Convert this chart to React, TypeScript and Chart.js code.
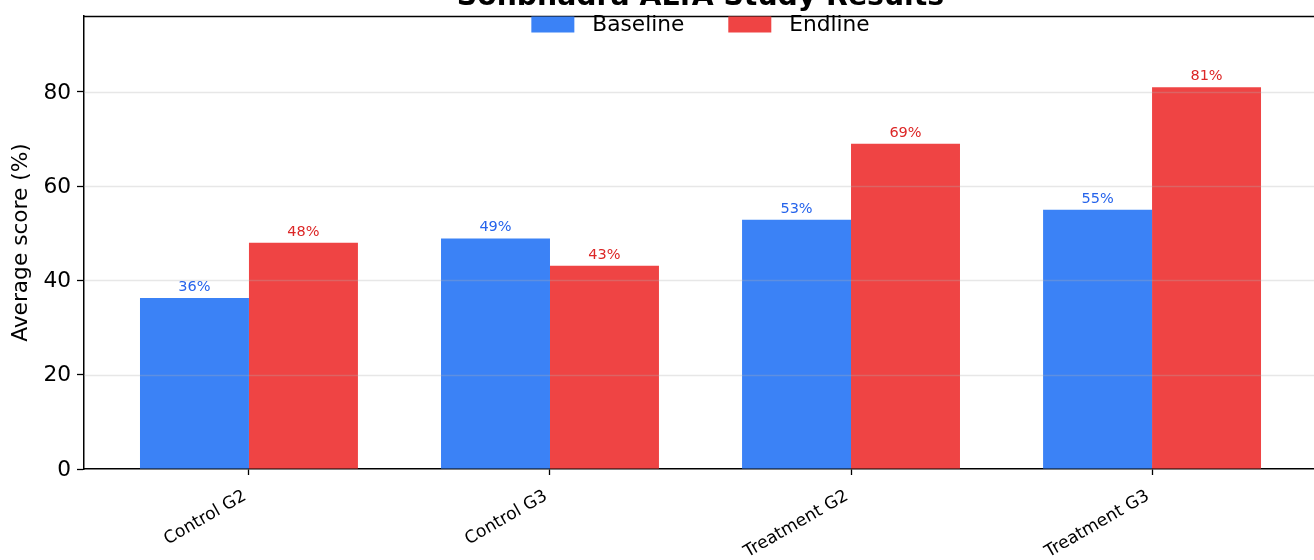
import React, { useEffect, useRef } from "react";
import { Chart, registerables } from "chart.js";

Chart.register(...registerables);

const categories = ["Control G2", "Control G3", "Treatment G2", "Treatment G3"];
const baselineValues = [36.3, 48.9, 52.9, 55.0];
const endlineValues = [48.0, 43.1, 69.0, 81.0];
const seriesNames = ["Baseline", "Endline"];
const yTicks = [0, 20, 40, 60, 80];
const gridTicks = [20, 40, 60, 80];
const chartTitle = "Sonbhadra ALfA Study Results";
const yTitle = "Average score (%)";

const W = 1314;
const H = 560;
const FONT = "'DejaVu Sans', 'Liberation Sans', sans-serif";
const BAR_COLORS = ["#3b82f6", "#ef4444"];
const LABEL_COLORS = ["#2563eb", "#dc2626"];
const MAIN_SIZE = 21.7;

const overlayPlugin = {
  id: "overlay",
  afterDatasetsDraw(chart: any) {
    const { ctx, chartArea, scales } = chart;
    const y = scales.y;
    ctx.save();
    ctx.strokeStyle = "rgba(176,176,176,0.3)";
    ctx.lineWidth = 1.4;
    for (const v of gridTicks) {
      const py = Math.round(y.getPixelForValue(v)) + 0.5;
      ctx.beginPath();
      ctx.moveTo(chartArea.left, py);
      ctx.lineTo(chartArea.right, py);
      ctx.stroke();
    }
    ctx.font = `14.5px ${FONT}`;
    ctx.textAlign = "center";
    ctx.textBaseline = "alphabetic";
    const all = [baselineValues, endlineValues];
    all.forEach((vals, di) => {
      const meta = chart.getDatasetMeta(di);
      ctx.fillStyle = LABEL_COLORS[di];
      meta.data.forEach((el: any, i: number) => {
        ctx.fillText(`${Math.round(vals[i])}%`, el.x, el.y - 7);
      });
    });
    ctx.restore();
  },
  afterDraw(chart: any) {
    const { ctx, chartArea } = chart;
    ctx.save();
    ctx.strokeStyle = "#000";
    ctx.lineWidth = 1.5;
    ctx.beginPath();
    ctx.moveTo(chartArea.left, chartArea.top + 0.5);
    ctx.lineTo(chartArea.right, chartArea.top + 0.5);
    ctx.stroke();

    const cx = 700.5;
    ctx.fillStyle = "#000";
    ctx.font = `bold 28.3px ${FONT}`;
    ctx.textAlign = "center";
    ctx.textBaseline = "alphabetic";
    ctx.fillText(chartTitle, cx, 5);

    ctx.font = `${MAIN_SIZE}px ${FONT}`;
    const patchW = 43;
    const patchH = 16;
    const pad = 18;
    const colGap = 44;
    const widths = seriesNames.map((s) => ctx.measureText(s).width);
    const total = widths.reduce((a, w) => a + patchW + pad + w, 0) + colGap * (seriesNames.length - 1);
    let x = cx - total / 2;
    const ly = 24.5;
    ctx.textAlign = "left";
    ctx.textBaseline = "middle";
    seriesNames.forEach((s, i) => {
      ctx.fillStyle = BAR_COLORS[i];
      ctx.fillRect(x, ly - patchH / 2, patchW, patchH);
      x += patchW + pad;
      ctx.fillStyle = "#000";
      ctx.fillText(s, x, ly + 1);
      x += widths[i] + colGap;
    });

    ctx.save();
    ctx.translate(21, (chartArea.top + chartArea.bottom) / 2);
    ctx.rotate(-Math.PI / 2);
    ctx.textAlign = "center";
    ctx.textBaseline = "middle";
    ctx.fillStyle = "#000";
    ctx.fillText(yTitle, 0, 0);
    ctx.restore();
    ctx.restore();
  },
};

export default function App() {
  const ref = useRef<HTMLCanvasElement | null>(null);
  useEffect(() => {
    document.body.style.margin = "0";
    const canvas = ref.current!;
    const chart = new Chart(canvas, {
      type: "bar",
      data: {
        datasets: [
          {
            label: seriesNames[0],
            data: baselineValues.map((v, i) => ({ x: i, y: v })),
            backgroundColor: BAR_COLORS[0],
            categoryPercentage: 0.724,
            barPercentage: 1,
          },
          {
            label: seriesNames[1],
            data: endlineValues.map((v, i) => ({ x: i, y: v })),
            backgroundColor: BAR_COLORS[1],
            categoryPercentage: 0.724,
            barPercentage: 1,
          },
        ],
      } as any,
      options: {
        animation: false,
        responsive: false,
        devicePixelRatio: 1,
        layout: { padding: { top: 16, left: 0, right: 0, bottom: 0 } },
        plugins: {
          legend: { display: false },
          title: { display: false },
          tooltip: { enabled: false },
        },
        scales: {
          x: {
            type: "linear",
            offset: false,
            min: -0.548,
            max: 3.538,
            afterBuildTicks: (s: any) => {
              s.ticks = categories.map((_, i) => ({ value: i }));
            },
            afterFit: (s: any) => {
              s.height = 91;
              s.paddingLeft = 0;
              s.paddingRight = 0;
            },
            ticks: {
              autoSkip: false,
              minRotation: 30,
              maxRotation: 30,
              padding: 11,
              labelOffset: -4,
              color: "#000",
              font: { family: FONT, size: 17.2 },
              callback: (v: any) => categories[Math.round(Number(v))] ?? "",
            },
            grid: {
              offset: false,
              drawOnChartArea: false,
              drawTicks: true,
              tickLength: 6,
              tickColor: "#000",
              tickWidth: 1.3,
            },
            border: { display: true, color: "#000", width: 1.5 },
          },
          y: {
            type: "linear",
            min: 0,
            max: 96.1,
            afterBuildTicks: (s: any) => {
              s.ticks = yTicks.map((v) => ({ value: v }));
            },
            afterFit: (s: any) => {
              s.width = 84;
              s.paddingTop = 0;
              s.paddingBottom = 0;
            },
            ticks: {
              padding: 6,
              labelOffset: 1,
              color: "#000",
              font: { family: FONT, size: MAIN_SIZE },
            },
            grid: {
              drawOnChartArea: false,
              drawTicks: true,
              tickLength: 7,
              tickColor: "#000",
              tickWidth: 1.3,
            },
            border: { display: true, color: "#000", width: 1.5 },
          },
        },
      } as any,
      plugins: [overlayPlugin],
    });
    return () => chart.destroy();
  }, []);
  return (
    <div style={{ position: "fixed", left: 0, top: 0, width: W, height: H, background: "#fff" }}>
      <canvas ref={ref} width={W} height={H} style={{ display: "block", width: W, height: H }} />
    </div>
  );
}
